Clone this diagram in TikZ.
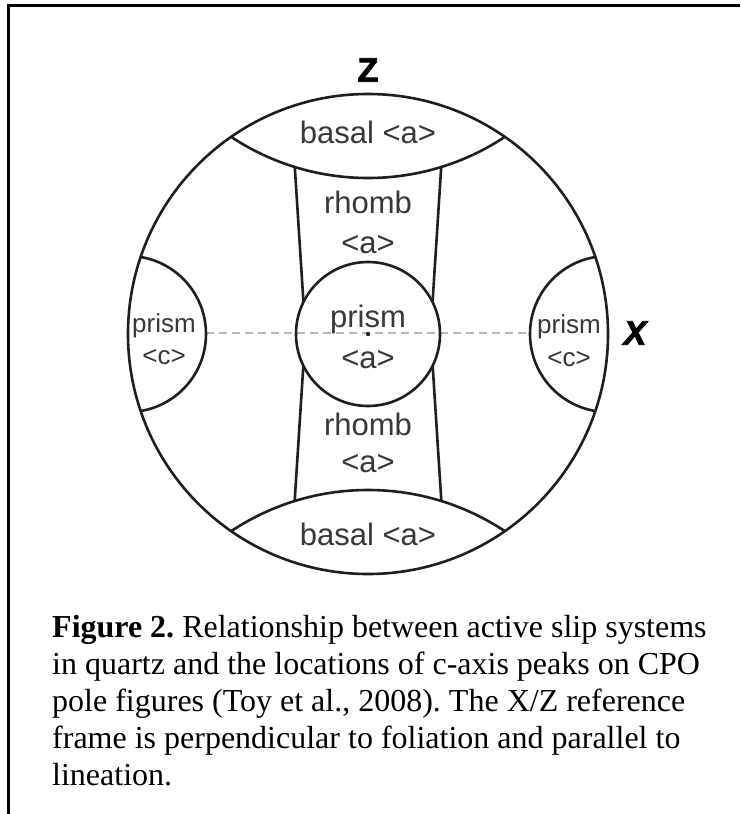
\documentclass[tikz,border=0pt]{standalone}
\usepackage{fontspec}
\setmainfont{Liberation Serif}
\newfontfamily\labfont{Liberation Sans}
\newfontfamily\axisfont[FakeBold=2.5]{Liberation Sans Bold}
\newfontfamily\axisitfont[FakeBold=2.5]{Liberation Sans Bold Italic}
\frenchspacing
\begin{document}
\begin{tikzpicture}[x=1pt,y=-1pt,
  edge/.style={line width=2.6pt, draw=black!88},
  lbl/.style={font=\labfont\fontsize{31}{31}\selectfont, text=black!78, inner sep=0pt, anchor=base},
  sidelbl/.style={lbl, font=\labfont\fontsize{26}{26}\selectfont},
  axislbl/.style={font=\axisfont\fontsize{34}{34}\selectfont, inner sep=0pt},
  capline/.style={font=\fontsize{32}{36}\selectfont, anchor=base west, inner sep=0pt},
  axisline/.style={draw=black!28, line width=1.8pt, dash pattern=on 8pt off 5pt}]

\useasboundingbox (0,0) rectangle (740,814);
\fill[white] (0,0) rectangle (740,814);

% frame (top and left rules)
\coordinate (fTR) at (740,5);
\coordinate (fTL) at (8.5,5);
\coordinate (fBL) at (8.5,814);
\draw[line width=3pt] (fTR) -- (fTL) -- (fBL);

% centres
\coordinate (O) at (368,334);
\coordinate (capT) at (368,-70);
\coordinate (capB) at (368,738);
\coordinate (capL) at (128,334);
\coordinate (capR) at (608,334);

% rhomb <a> boundaries (trimmed by the fills below)
\coordinate (ul1) at (293.7,150); \coordinate (ul2) at (304.6,320);
\coordinate (ur1) at (442.3,150); \coordinate (ur2) at (431.4,320);
\coordinate (ll1) at (293.7,516); \coordinate (ll2) at (304.6,346);
\coordinate (lr1) at (442.3,516); \coordinate (lr2) at (431.4,346);
\draw[edge] (ul1) -- (ul2);
\draw[edge] (ur1) -- (ur2);
\draw[edge] (ll1) -- (ll2);
\draw[edge] (lr1) -- (lr2);

% basal fields and prism <a> field
\begin{scope}
  \clip (O) circle (240pt);
  \fill[white] (capT) circle (248pt);
  \fill[white] (capB) circle (248pt);
\end{scope}
\fill[white] (O) circle (72pt);

% X axis trace
\coordinate (axL) at (206,333);
\coordinate (axR) at (530,333);
\draw[axisline] (axL) -- (axR);

% field boundaries
\begin{scope}
  \clip (O) circle (240pt);
  \draw[edge] (capT) circle (248pt);
  \draw[edge] (capB) circle (248pt);
  \draw[edge] (capL) circle (78pt);
  \draw[edge] (capR) circle (78pt);
\end{scope}
\draw[edge] (O) circle (72pt);
\draw[edge] (O) circle (240pt);
\fill[black!85] (368,334) circle (2.2pt);

% slip system labels
\node[lbl] (basalTop) at (368,143) {basal <a>};
\node[lbl] (rhombTop) at (368,213) {rhomb};
\node[lbl] (rhombTopA) at (368,253) {<a>};
\node[lbl] (prismA) at (368,327) {prism};
\node[lbl] (prismAA) at (368,368) {<a>};
\node[lbl] (rhombBot) at (368,435) {rhomb};
\node[lbl] (rhombBotA) at (368,472) {<a>};
\node[lbl] (basalBot) at (368,545) {basal <a>};
\node[sidelbl] (prismL) at (164,332) {prism};
\node[sidelbl] (prismLC) at (164,364) {<c>};
\node[sidelbl] (prismR) at (569,333) {prism};
\node[sidelbl] (prismRC) at (569,366) {<c>};

% axes
\node[axislbl] (zlab) at (368,70) {Z};
\node[axislbl, font=\axisitfont\fontsize{34}{34}\selectfont] (xlab) at (635,333) {X};

% caption
\node[capline] (cap1) at (52,637) {\textbf{Figure 2.} Relationship between active slip systems};
\node[capline] (cap2) at (52,674) {in quartz and the locations of c-axis peaks on CPO};
\node[capline] (cap3) at (52,711) {pole figures (Toy et al., 2008). The X/Z reference};
\node[capline] (cap4) at (52,748) {frame is perpendicular to foliation and parallel to};
\node[capline] (cap5) at (52,785) {lineation.};
\end{tikzpicture}
\end{document}
